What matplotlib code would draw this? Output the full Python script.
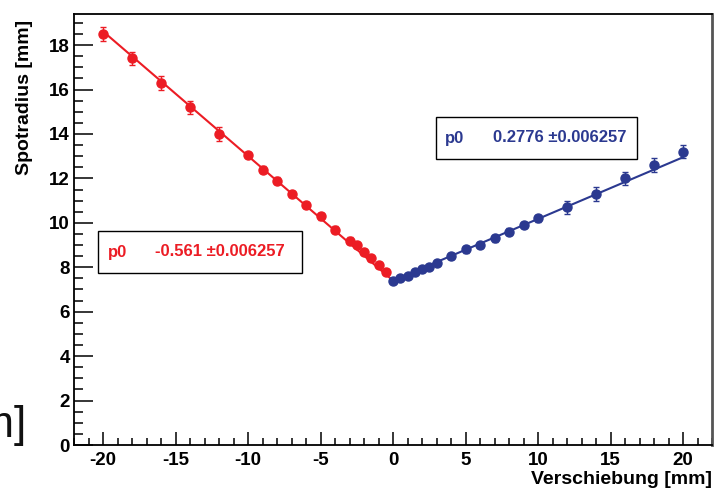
import matplotlib
matplotlib.use('Agg')
import matplotlib.pyplot as plt
from matplotlib.patches import Rectangle
from matplotlib.ticker import MultipleLocator
import numpy as np

plt.rcParams['font.family'] = ['Liberation Sans', 'DejaVu Sans']
plt.rcParams['axes.unicode_minus'] = False

# measured points, left (red) side of the scan
x_red = [-20, -18, -16, -14, -12, -10, -9, -8, -7, -6, -5, -4, -3, -2.5, -2, -1.5, -1, -0.5]
y_red = [18.5, 17.4, 16.3, 15.2, 14.0, 13.05, 12.4, 11.9, 11.3, 10.8, 10.3, 9.7, 9.2, 9.0, 8.7, 8.4, 8.1, 7.8]
e_red = [0.3, 0.3, 0.3, 0.3, 0.3, 0.15, 0.15, 0.15, 0.15, 0.15, 0.15, 0.15, 0.15, 0.1, 0.1, 0.1, 0.1, 0.1]

# right (blue) side of the scan
x_blue = [0, 0.5, 1, 1.5, 2, 2.5, 3, 4, 5, 6, 7, 8, 9, 10, 12, 14, 16, 18, 20]
y_blue = [7.4, 7.5, 7.6, 7.8, 7.9, 8.0, 8.2, 8.5, 8.8, 9.0, 9.3, 9.6, 9.9, 10.2, 10.7, 11.3, 12.0, 12.6, 13.2]
e_blue = [0.1, 0.1, 0.1, 0.1, 0.1, 0.1, 0.1, 0.15, 0.15, 0.15, 0.15, 0.15, 0.15, 0.15, 0.3, 0.3, 0.3, 0.3, 0.3]

# linear fits (slope p0, common offset)
p0_red = -0.561
p0_blue = 0.2776
p0_err = 0.006257
offset = 7.4
fit_red_range = [-20, 0]
fit_blue_range = [0, 20]

RED = '#ec1c24'
BLUE = '#2b3990'

W, H = 722, 488
fig = plt.figure(figsize=(W / 100, H / 100), dpi=100)

def fx(px):
    return px / W

def fy(py):
    return 1 - py / H

ax = fig.add_axes([fx(74), fy(445), fx(712) - fx(74), fy(14) - fy(445)])

for xs, ys, es, col in [(x_red, y_red, e_red, RED), (x_blue, y_blue, e_blue, BLUE)]:
    ax.errorbar(xs, ys, yerr=es, fmt='o', color=col, ms=6.5, mec=col,
                ecolor=col, elinewidth=1.0, capsize=2, capthick=1.0, zorder=3)

xr = np.array(fit_red_range, dtype=float)
xb = np.array(fit_blue_range, dtype=float)
ax.plot(xr, offset + p0_red * xr, color=RED, lw=1.5, zorder=2)
ax.plot(xb, offset + p0_blue * xb, color=BLUE, lw=1.5, zorder=2)

ax.set_xlim(-22, 22)
ax.set_ylim(0, 19.4)
ax.xaxis.set_major_locator(MultipleLocator(5))
ax.xaxis.set_minor_locator(MultipleLocator(1))
ax.yaxis.set_major_locator(MultipleLocator(2))
ax.yaxis.set_minor_locator(MultipleLocator(0.5))

ax.tick_params(axis='both', which='both', direction='in', top=False, right=False, width=1.1)
ax.tick_params(axis='y', which='major', length=13.5, pad=3)
ax.tick_params(axis='y', which='minor', length=6.5)
ax.tick_params(axis='x', which='major', length=9.5, pad=5)
ax.tick_params(axis='x', which='minor', length=5)
for lab in ax.get_xticklabels() + ax.get_yticklabels():
    lab.set_fontweight('bold')
    lab.set_fontsize(13.5)

for s in ['left', 'bottom', 'top']:
    ax.spines[s].set_linewidth(1.3)
    ax.spines[s].set_color('black')
ax.spines['right'].set_linewidth(2)
ax.spines['right'].set_color('#555555')

# axis titles, ROOT style (right / top aligned)
fig.text(fx(24.5), fy(20), 'Spotradius [mm]', rotation=90, ha='center', va='top',
         fontsize=14, fontweight='bold')
fig.text(fx(712), fy(471), 'Verschiebung [mm]', ha='right', va='top',
         fontsize=14, fontweight='bold')

# fit parameter boxes
def stat_box(x0, y0, x1, y1, px_p0, px_val, val, col):
    fig.patches.append(Rectangle((fx(x0), fy(y1)), fx(x1) - fx(x0), fy(y0) - fy(y1),
                                 transform=fig.transFigure, fill=True, fc='white',
                                 ec='black', lw=1.0, zorder=5))
    yc = fy((y0 + y1) / 2)
    fig.text(fx(px_p0), yc, 'p0', ha='left', va='center', color=col,
             fontsize=12, fontweight='bold', zorder=6)
    fig.text(fx(px_val), yc, f'{val:g} \u00b1{p0_err:g}', ha='left', va='center',
             color=col, fontsize=12, fontweight='bold', zorder=6)

stat_box(98, 231, 302, 273, 108, 155, p0_red, RED)
stat_box(436, 117, 637, 159, 445, 493, p0_blue, BLUE)

# leftover label fragment at the left edge of the original image
fig.text(fx(26), fy(437), 'm]', ha='right', va='baseline', fontsize=32, color='#111111')

fig.savefig('out.png', dpi=100)
